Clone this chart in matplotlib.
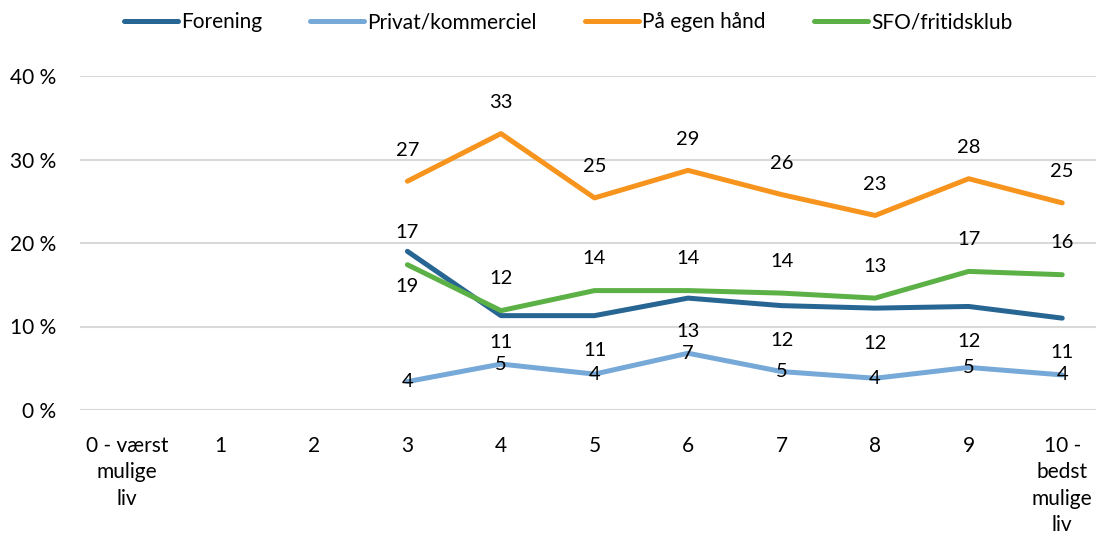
import matplotlib
matplotlib.use("Agg")
import matplotlib.pyplot as plt

categories = ["0 - værst\nmulige\nliv", "1", "2", "3", "4", "5", "6", "7", "8", "9", "10 -\nbedst\nmulige\nliv"]
x_data = [3, 4, 5, 6, 7, 8, 9, 10]

forening = [19.0, 11.3, 11.3, 13.4, 12.5, 12.2, 12.4, 11.0]
privat = [3.4, 5.5, 4.3, 6.8, 4.6, 3.8, 5.1, 4.2]
egen = [27.4, 33.1, 25.4, 28.7, 25.8, 23.3, 27.7, 24.8]
sfo = [17.4, 11.9, 14.3, 14.3, 14.0, 13.4, 16.6, 16.2]

forening_lbl = [19, 11, 11, 13, 12, 12, 12, 11]
privat_lbl = [4, 5, 4, 7, 5, 4, 5, 4]
egen_lbl = [27, 33, 25, 29, 26, 23, 28, 25]
sfo_lbl = [17, 12, 14, 14, 14, 13, 17, 16]

series_names = ["Forening", "Privat/kommerciel", "På egen hånd", "SFO/fritidsklub"]
colors = ["#276592", "#76A9D8", "#F7941D", "#5CB146"]

yticks = [0, 10, 20, 30, 40]

plt.rcParams['font.family'] = ['Lato', 'DejaVu Sans']
FS = 15
LFS = 14.5

W, H = 1096, 536
fig = plt.figure(figsize=(W / 100, H / 100), dpi=100)
ax = fig.add_axes([80 / W, (H - 410) / H, (1109 - 80) / W, (410 - 76) / H])

series = [forening, privat, egen, sfo]
labels = [forening_lbl, privat_lbl, egen_lbl, sfo_lbl]
offsets = [35, 0, -31, -32]   # label offset in pixels (positive = below)
handles = []
for vals, name, col in zip(series, series_names, colors):
    h, = ax.plot(x_data, vals, color=col, lw=3.6, solid_capstyle='round',
                 solid_joinstyle='round', label=name)
    handles.append(h)

ax.set_xlim(-0.5, 10.5)
ax.set_ylim(0, 40)

tr = ax.transData
inv = tr.inverted()
privat_label_py = [tr.transform((xv, yv))[1] for xv, yv in zip(x_data, privat)]

for si, (vals, lbls, off) in enumerate(zip(series, labels, offsets)):
    for i, (xv, yv, lb) in enumerate(zip(x_data, vals, lbls)):
        py = tr.transform((xv, yv))[1] - off
        if si == 0:
            py = max(py, privat_label_py[i] + 22)
        ty = inv.transform((0, py))[1]
        ax.text(xv, ty, str(lb), ha='center', va='center', fontsize=LFS,
                color='black', zorder=5)

ax.set_xticks(range(len(categories)))
ax.set_xticklabels(categories, fontsize=FS, linespacing=1.38)
ax.set_yticks(yticks)
ax.set_yticklabels([f"{v} %" for v in yticks], fontsize=FS)
ax.tick_params(axis='both', length=0, colors='black')
ax.tick_params(axis='y', pad=17)
ax.tick_params(axis='x', pad=19)
ax.grid(axis='y', color='#D9D9D9', lw=1.5)
ax.set_axisbelow(True)
for s in ax.spines.values():
    s.set_visible(False)

fig.legend(handles=handles, loc='center', bbox_to_anchor=(568 / W, 1 - 22 / H), ncol=4,
           frameon=False, fontsize=FS, handlelength=2.6, handletextpad=0.15, columnspacing=2.3)

fig.savefig("out.png", dpi=100)
